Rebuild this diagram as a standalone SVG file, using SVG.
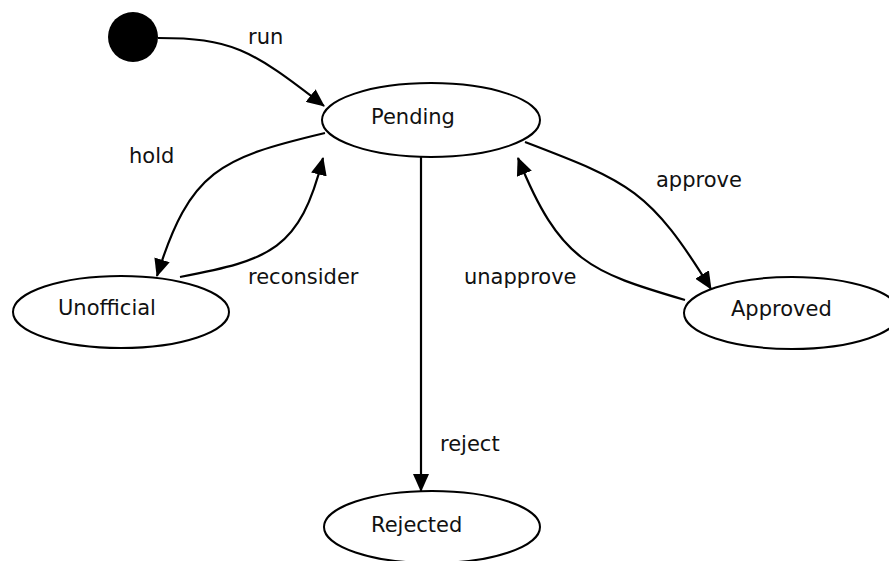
<svg xmlns="http://www.w3.org/2000/svg" width="889" height="561" viewBox="0 0 889 561">
<style>
  .node ellipse { fill: #ffffff; stroke: #000000; stroke-width: 2; }
  .lbl { font-family: "DejaVu Sans", Verdana, sans-serif; font-size: 21px; fill: #111111; }
  .edge { fill: none; stroke: #000000; stroke-width: 2.2; marker-end: url(#arrow); }
</style>
<defs>
  <marker id="arrow" markerUnits="userSpaceOnUse" viewBox="0 0 18 16" refX="17" refY="8" markerWidth="18" markerHeight="16" orient="auto">
    <path d="M0,0 L18,8 L0,16 z" fill="#000000"/>
  </marker>
</defs>
<rect width="889" height="561" fill="#ffffff"/>
<g id="connectors">
  <path class="edge" d="M158,38 C230,38 250,48 324,106"/>
  <path class="edge" d="M325,133 C220,158 190,170 157,276"/>
  <path class="edge" d="M180,277 C270,260 300,250 323,158"/>
  <path class="edge" d="M421,156 L421,491"/>
  <path class="edge" d="M525,142 C630,182 650,190 711,289"/>
  <path class="edge" d="M685,300 C590,272 560,262 518,158"/>
  <text class="lbl" x="248" y="44">run</text>
  <text class="lbl" x="129" y="163">hold</text>
  <text class="lbl" x="248" y="284">reconsider</text>
  <text class="lbl" x="656" y="187">approve</text>
  <text class="lbl" x="464" y="284">unapprove</text>
  <text class="lbl" x="440" y="451">reject</text>
</g>
<g id="initial">
  <circle cx="133" cy="37" r="25" fill="#000000"/>
</g>
<g id="pending" class="node">
  <ellipse cx="431" cy="120" rx="109" ry="37"/>
  <text class="lbl" x="371" y="124">Pending</text>
</g>
<g id="unofficial" class="node">
  <ellipse cx="121" cy="312" rx="108" ry="36"/>
  <text class="lbl" x="58" y="315">Unofficial</text>
</g>
<g id="approved" class="node">
  <ellipse cx="792" cy="313" rx="108" ry="36"/>
  <text class="lbl" x="731" y="316">Approved</text>
</g>
<g id="rejected" class="node">
  <ellipse cx="432" cy="527" rx="108" ry="36"/>
  <text class="lbl" x="371" y="532">Rejected</text>
</g>
</svg>
